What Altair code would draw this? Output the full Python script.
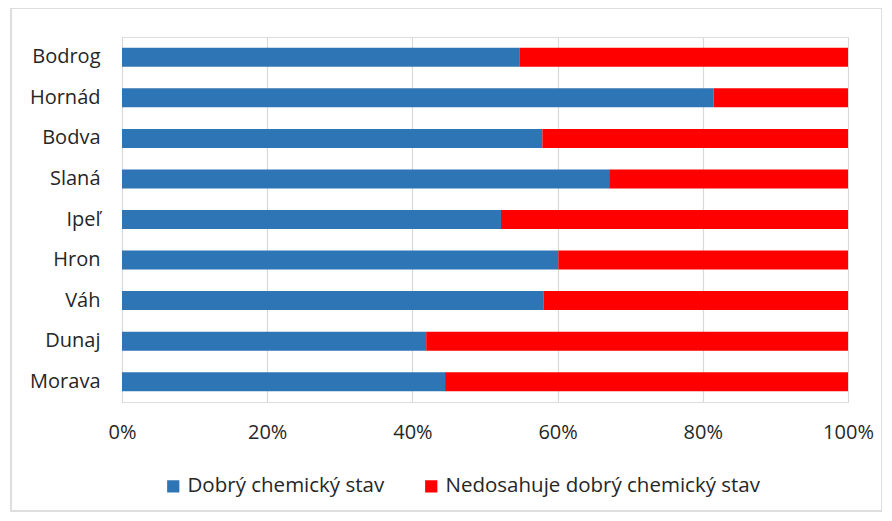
import altair as alt
import pandas as pd

rivers = ["Bodrog", "Hornád", "Bodva", "Slaná", "Ipeľ", "Hron", "Váh", "Dunaj", "Morava"]
good = [54.8, 81.5, 57.9, 67.1, 52.2, 60.1, 58.1, 41.9, 44.5]
bad = [45.2, 18.5, 42.1, 32.9, 47.8, 39.9, 41.9, 58.1, 55.5]
series = ["Dobrý chemický stav", "Nedosahuje dobrý chemický stav"]
colors = ["#2E75B6", "#FF0000"]

rows = []
for r, g, b in zip(rivers, good, bad):
    rows.append({"river": r, "status": series[0], "value": g, "ord": 0})
    rows.append({"river": r, "status": series[1], "value": b, "ord": 1})
df = pd.DataFrame(rows)

FONT = "Open Sans"
TXT = "#262626"
FS = 20.5

bars = alt.Chart(df).mark_bar(size=19).encode(
    y=alt.Y("river:N", sort=rivers, title=None,
            scale=alt.Scale(paddingInner=0, paddingOuter=0),
            axis=alt.Axis(ticks=False, domain=False, labelPadding=22,
                          labelFontSize=20, labelColor=TXT, labelFont=FONT, grid=False)),
    x=alt.X("value:Q", stack="normalize", title=None,
            scale=alt.Scale(domain=[0, 1]),
            axis=alt.Axis(format=".0%", values=[0, 0.2, 0.4, 0.6, 0.8, 1.0],
                          ticks=False, domain=False, labelPadding=20, labelFlush=False,
                          labelFontSize=20, labelColor=TXT, labelFont=FONT,
                          grid=True, gridColor="#d9d9d9", gridWidth=1.2)),
    color=alt.Color("status:N", scale=alt.Scale(domain=series, range=colors),
                    legend=alt.Legend(title=None, orient="none", direction="horizontal",
                                      legendX=41, legendY=439,
                                      symbolType="square", symbolSize=150,
                                      symbolStrokeWidth=0, labelFontSize=FS,
                                      labelFont=FONT, labelColor=TXT,
                                      labelOffset=4, columnPadding=36,
                                      labelLimit=400)),
    order=alt.Order("ord:Q"),
)

border = alt.Chart(alt.Data(values=[{}])).mark_rect(
    filled=False, stroke="#d4d4d4", strokeWidth=1.5
).encode(
    x=alt.value(-111), x2=alt.value(760),
    y=alt.value(-29), y2=alt.value(474),
)

chart = alt.layer(bars, border).properties(
    width=726, height=365,
    autosize=alt.AutoSizeParams(type="none"),
    padding={"left": 114, "top": 29, "right": 34, "bottom": 110},
).configure_view(stroke=None).configure(background="white")

chart.save("out.html", embed_options={"renderer": "svg", "actions": False})
